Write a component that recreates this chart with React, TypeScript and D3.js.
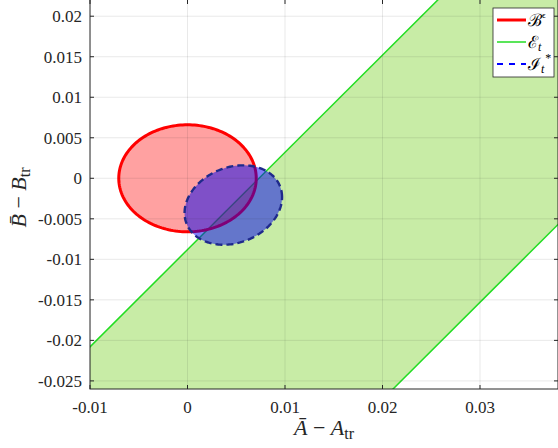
import React from 'react';
import * as d3 from 'd3';

// axis ticks
const xTicks = [-0.01, 0, 0.01, 0.02, 0.03];
const xTickLabels = ['-0.01', '0', '0.01', '0.02', '0.03'];
const yTicks = [0.02, 0.015, 0.01, 0.005, 0, -0.005, -0.01, -0.015, -0.02, -0.025];
const yTickLabels = ['0.02', '0.015', '0.01', '0.005', '0', '-0.005', '-0.01', '-0.015', '-0.02', '-0.025'];

// B^eps : axis-aligned ellipse [cx, cy, rx, ry]
const ballEllipse = [0, 0, 0.00705, 0.0066];
// I_t^* : tilted ellipse [cx, cy, xExtent, yExtent, correlation]
const innerEllipse = [0.0047, -0.0033, 0.005, 0.0049, 0.2];
// E_t : strip between two parallel lines y = slope * x + intercept
const stripSlope = 1.2;
const stripIntercepts = [-0.0088, -0.0513];

const W = 558;
const H = 448;
const left = 90;
const right = 558;
const top = 0;
const bottom = 389;
const serifStyle = { fontFamily: "'Liberation Serif', 'Times New Roman', serif" };

const ellipsePoints = (cx: number, cy: number, ax: number, ay: number, rho: number) =>
  d3.range(0, 361, 2).map(deg => {
    const t = (deg * Math.PI) / 180;
    return [cx + ax * Math.cos(t), cy + ay * (rho * Math.cos(t) + Math.sqrt(1 - rho * rho) * Math.sin(t))];
  });

const App = () => {
  const x = d3.scaleLinear().domain([-0.01, 0.038]).range([left, right]);
  const y = d3.scaleLinear().domain([-0.026, 0.022]).range([bottom, top]);
  const line = d3.line<number[]>().x(d => x(d[0])).y(d => y(d[1]));

  const xs = [-0.03, 0.06];
  const upper = xs.map(v => [v, stripSlope * v + stripIntercepts[0]]);
  const lower = xs.map(v => [v, stripSlope * v + stripIntercepts[1]]);
  const strip = [...upper, ...lower.slice().reverse()];

  const red = ellipsePoints(ballEllipse[0], ballEllipse[1], ballEllipse[2], ballEllipse[3], 0);
  const blue = ellipsePoints(innerEllipse[0], innerEllipse[1], innerEllipse[2], innerEllipse[3], innerEllipse[4]);

  return (
    <svg width={W} height={H} style={{ position: 'absolute', left: 0, top: 0, background: '#fff' }}>
      <defs>
        <clipPath id="plot">
          <rect x={left} y={top} width={right - left} height={bottom - top} />
        </clipPath>
      </defs>
      <g clipPath="url(#plot)">
        <path d={line(strip) + 'Z'} fill="#c8eca6" />
        {stripIntercepts.map((b, i) => (
          <path key={i} d={line(xs.map(v => [v, stripSlope * v + b])) || ''} stroke="#22dd22" strokeWidth={1.5} fill="none" />
        ))}
        <path d={line(red) + 'Z'} fill="rgba(255,0,0,0.37)" stroke="#ff0000" strokeWidth={3} />
        <path d={line(blue) + 'Z'} fill="rgba(0,0,240,0.5)" stroke="#1f2a8c" strokeWidth={2.4} strokeDasharray="7,4" />
        {/* grid */}
        {xTicks.map(v => (
          <line key={'gx' + v} x1={x(v)} x2={x(v)} y1={top} y2={bottom} stroke="#262626" strokeOpacity={0.1} />
        ))}
        {yTicks.map(v => (
          <line key={'gy' + v} x1={left} x2={right} y1={y(v)} y2={y(v)} stroke="#262626" strokeOpacity={0.1} />
        ))}
      </g>
      {/* axes box */}
      <rect x={left} y={top - 0.5} width={right - left} height={bottom - top + 0.5} fill="none" stroke="#262626" strokeWidth={1} />
      <g style={serifStyle} fill="#262626">
        {xTicks.map((v, i) => (
          <g key={'tx' + v}>
            <line x1={x(v)} x2={x(v)} y1={bottom} y2={bottom - 4} stroke="#262626" />
            <line x1={x(v)} x2={x(v)} y1={top} y2={top + 4} stroke="#262626" />
            <text x={x(v)} y={bottom + 24} textAnchor="middle" fontSize={17}>
              {xTickLabels[i]}
            </text>
          </g>
        ))}
        {yTicks.map((v, i) => (
          <g key={'ty' + v}>
            <line x1={left} x2={left + 4} y1={y(v)} y2={y(v)} stroke="#262626" />
            <line x1={right} x2={right - 4} y1={y(v)} y2={y(v)} stroke="#262626" />
            <text x={left - 8} y={y(v)} dy="0.35em" textAnchor="end" fontSize={17}>
              {yTickLabels[i]}
            </text>
          </g>
        ))}
        {/* axis labels */}
        <text x={(left + right) / 2} y={435} textAnchor="middle" fontSize={22}>
          <tspan fontStyle="italic">{'A\u0304'}</tspan>
          <tspan>{' \u2212 '}</tspan>
          <tspan fontStyle="italic">A</tspan>
          <tspan fontSize={16} dy={4}>tr</tspan>
        </text>
        <text transform={`translate(26,${(top + bottom) / 2 + 3}) rotate(-90)`} textAnchor="middle" fontSize={22}>
          <tspan fontStyle="italic">{'B\u0304'}</tspan>
          <tspan>{' \u2212 '}</tspan>
          <tspan fontStyle="italic">B</tspan>
          <tspan fontSize={16} dy={4}>tr</tspan>
        </text>
      </g>
      {/* legend */}
      <g transform="translate(493,8)" style={serifStyle}>
        <rect x={0} y={0} width={61} height={69} fill="#fff" stroke="#262626" strokeWidth={0.8} />
        <line x1={4} x2={33} y1={12} y2={12} stroke="#ff0000" strokeWidth={3} />
        <line x1={4} x2={33} y1={34} y2={34} stroke="#22dd22" strokeWidth={1.5} />
        <line x1={4} x2={33} y1={56} y2={56} stroke="#0000ff" strokeWidth={2} strokeDasharray="6,6" />
        <text x={35} y={18} fontSize={17} fill="#000">
          {'\u212C'}
          <tspan fontSize={9} dy={-8}>{'\u03F5'}</tspan>
        </text>
        <text x={35} y={40} fontSize={17} fill="#000">
          {'\u2130'}
          <tspan fontSize={12} dy={3} fontStyle="italic">t</tspan>
        </text>
        <text x={35} y={62} fontSize={17} fill="#000">
          {'\u2110'}
          <tspan fontSize={12} dy={3} fontStyle="italic">t</tspan>
          <tspan fontSize={12} dx={1} dy={-11}>*</tspan>
        </text>
      </g>
    </svg>
  );
};

export default App;
